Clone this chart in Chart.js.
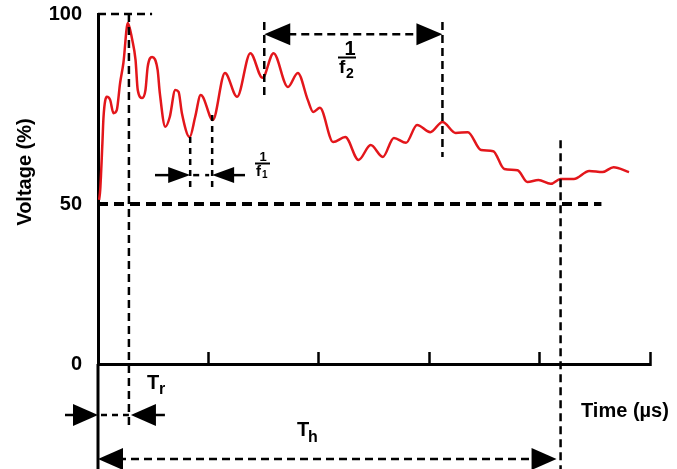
<!DOCTYPE html>
<html lang="en">
<head>
<meta charset="UTF-8">
<title>Voltage waveform</title>
<script src="https://cdn.jsdelivr.net/npm/chart.js"></script>
<style>
    html, body { margin: 0; padding: 0; background: #fff; }
    #wrap { width: 677px; height: 469px; }
</style>
</head>
<body>
<div id="wrap"><canvas id="chart" width="677" height="469"></canvas></div>
<script>
    // waveform (time in axis divisions, voltage in %)
    const timeValues = [0.01, 0.02, 0.04, 0.05, 0.08, 0.11, 0.14, 0.17, 0.20, 0.23, 0.27, 0.31, 0.34, 0.36, 0.40, 0.43,
        0.45, 0.49, 0.54, 0.56, 0.61, 0.65, 0.70, 0.73, 0.76, 0.83, 0.88, 0.93, 0.95, 1.04, 1.15, 1.26, 1.38, 1.49,
        1.59, 1.72, 1.81, 1.90, 1.95, 2.01, 2.13, 2.24, 2.36, 2.47, 2.58, 2.68, 2.79, 2.89, 3.01, 3.12, 3.24, 3.35,
        3.47, 3.58, 3.68, 3.80, 3.89, 3.99, 4.10, 4.19, 4.31, 4.45, 4.57, 4.67, 4.81];
    const voltValues = [51.1, 53.7, 66.1, 72.9, 78.2, 77.4, 73.9, 74.7, 81.8, 87.1, 97.6, 93.2, 87.9, 80.0, 77.9, 80.0,
        86.1, 88.7, 85.3, 79.2, 70.3, 72.9, 80.0, 79.5, 73.9, 67.6, 72.9, 78.7, 78.2, 72.1, 84.5, 78.2, 89.7, 83.2,
        89.7, 80.8, 84.5, 77.4, 74.2, 75.3, 66.3, 67.6, 61.6, 65.5, 62.4, 67.4, 66.1, 70.8, 68.9, 71.6, 68.7, 68.9,
        64.2, 63.9, 59.2, 58.9, 55.8, 56.3, 55.3, 56.6, 56.6, 58.7, 58.4, 59.7, 58.4];

    const yTickValues = [0, 50, 100];
    const yTickLabels = ["0", "50", "100"];
    const xTickValues = [0, 1, 2, 3, 4, 5];

    // annotation markers (same units as the data)
    const riseTime = 0.28;
    const f1Times = [0.835, 1.034];
    const f2Times = [1.506, 3.12];
    const holdTime = 4.19;
    const halfLevel = 50;
    const peakLevel = 100;

    const FONT = "'Liberation Sans', Arial, Helvetica, sans-serif";
    const LOW_SHARE = 160 / 350; // the drawing gives the 0-50 band less height than 50-100

    // linear scale split at 50 %, like the hand drawn axis
    class SplitLinearScale extends Chart.LinearScale {
        getPixelForValue(value) {
            if (value === null || isNaN(value)) return NaN;
            const d = value <= 50 ? value / 50 * LOW_SHARE : LOW_SHARE + (value - 50) / 50 * (1 - LOW_SHARE);
            return this.getPixelForDecimal(d);
        }
        getValueForPixel(pixel) {
            const d = this.getDecimalForPixel(pixel);
            return d <= LOW_SHARE ? d / LOW_SHARE * 50 : 50 + (d - LOW_SHARE) / (1 - LOW_SHARE) * 50;
        }
    }
    SplitLinearScale.id = "splitLinear";
    SplitLinearScale.defaults = Chart.LinearScale.defaults;
    Chart.register(SplitLinearScale);

    function dashedLine(ctx, x1, y1, x2, y2, dash, width) {
        ctx.save();
        ctx.strokeStyle = "#000";
        ctx.lineWidth = width;
        ctx.setLineDash(dash);
        ctx.beginPath();
        ctx.moveTo(x1, y1);
        ctx.lineTo(x2, y2);
        ctx.stroke();
        ctx.restore();
    }

    function solidLine(ctx, x1, y1, x2, y2, width) {
        dashedLine(ctx, x1, y1, x2, y2, [], width);
    }

    // dir = 1 points right, -1 points left
    function arrowHead(ctx, tipX, y, dir, len, half) {
        ctx.save();
        ctx.fillStyle = "#000";
        ctx.beginPath();
        ctx.moveTo(tipX, y);
        ctx.lineTo(tipX - dir * len, y - half);
        ctx.lineTo(tipX - dir * len, y + half);
        ctx.closePath();
        ctx.fill();
        ctx.restore();
    }

    function text(ctx, str, x, y, size, align) {
        ctx.font = "bold " + size + "px " + FONT;
        ctx.textAlign = align || "left";
        ctx.textBaseline = "alphabetic";
        ctx.fillStyle = "#000";
        ctx.fillText(str, x, y);
    }

    const annotations = {
        id: "annotations",
        afterDatasetsDraw(chart) {
            const ctx = chart.ctx;
            const xs = chart.scales.x;
            const ys = chart.scales.y;
            const area = chart.chartArea;
            const X = t => xs.getPixelForValue(t);
            const Y = v => ys.getPixelForValue(v);
            const thin = [8, 5];

            // axis continues below the time axis
            solidLine(ctx, area.left, area.bottom, area.left, chart.height, 3);

            // 100 % and 50 % reference lines
            dashedLine(ctx, area.left, Y(peakLevel), X(0.49), Y(peakLevel), thin, 2.5);
            dashedLine(ctx, area.left, Y(halfLevel), X(4.56), Y(halfLevel), [10, 6], 4);

            // rise time
            const xr = X(riseTime);
            dashedLine(ctx, xr, Y(peakLevel), xr, area.bottom + 66, thin, 2.5);
            const yTr = area.bottom + 51;
            solidLine(ctx, 65, yTr, area.left - 20, yTr, 2.5);
            arrowHead(ctx, area.left, yTr, 1, 25, 11);
            dashedLine(ctx, area.left + 3, yTr, xr, yTr, [6, 5], 2.5);
            arrowHead(ctx, xr + 2, yTr, -1, 25, 11);
            solidLine(ctx, xr + 20, yTr, xr + 36, yTr, 2.5);
            text(ctx, "T", 147, 389, 20);
            text(ctx, "r", 159, 394, 16);

            // duration
            const xh = X(holdTime);
            dashedLine(ctx, xh, Y(66.8), xh, chart.height, thin, 2.5);
            const yTh = area.bottom + 95;
            arrowHead(ctx, area.left, yTh, -1, 25, 11);
            dashedLine(ctx, area.left + 20, yTh, xh - 24, yTh, thin, 2.5);
            arrowHead(ctx, xh - 4, yTh, 1, 25, 11);
            text(ctx, "T", 297, 436, 20);
            text(ctx, "h", 308, 442, 16);

            // first oscillation period
            const xa = X(f1Times[0]);
            const xb = X(f1Times[1]);
            dashedLine(ctx, xa, Y(67.6), xa, Y(53.2), [6, 5], 2.5);
            dashedLine(ctx, xb, Y(73.4), xb, Y(53.2), [6, 5], 2.5);
            const yf1 = Y(57.6);
            solidLine(ctx, 155, yf1, xa - 15, yf1, 2.5);
            arrowHead(ctx, xa, yf1, 1, 22, 8);
            dashedLine(ctx, xa + 3, yf1, xb - 3, yf1, [6, 6], 2.5);
            arrowHead(ctx, xb, yf1, -1, 22, 8);
            solidLine(ctx, xb + 15, yf1, 245, yf1, 2.5);
            text(ctx, "1", 263, 161, 13, "center");
            solidLine(ctx, 255, 163.5, 270, 163.5, 2);
            text(ctx, "f", 256, 176, 15);
            text(ctx, "1", 262, 178, 10);

            // second oscillation period
            const xc = X(f2Times[0]);
            const xd = X(f2Times[1]);
            dashedLine(ctx, xc, Y(97.9), xc, Y(77.9), thin, 2.5);
            dashedLine(ctx, xd, Y(97.9), xd, Y(62.4), thin, 2.5);
            const yf2 = Y(94.7);
            arrowHead(ctx, xc, yf2, -1, 26, 11);
            dashedLine(ctx, xc + 24, yf2, xd - 24, yf2, thin, 2.5);
            arrowHead(ctx, xd, yf2, 1, 26, 11);
            text(ctx, "1", 350, 55, 20, "center");
            solidLine(ctx, 338, 57.5, 356, 57.5, 2);
            text(ctx, "f", 339, 73, 19);
            text(ctx, "2", 346, 78, 14);

            // axis titles
            text(ctx, "Time (\u00b5s)", 581, 417, 20);
            ctx.save();
            ctx.translate(31, 172);
            ctx.rotate(-Math.PI / 2);
            text(ctx, "Voltage (%)", 0, 0, 20, "center");
            ctx.restore();
        }
    };

    new Chart(document.getElementById("chart").getContext("2d"), {
        type: "line",
        data: {
            datasets: [{
                data: timeValues.map((t, i) => ({ x: t, y: voltValues[i] })),
                borderColor: "#e3161b",
                borderWidth: 2.5,
                pointRadius: 0,
                fill: false,
                cubicInterpolationMode: "monotone"
            }]
        },
        options: {
            responsive: false,
            animation: false,
            layout: { padding: { top: 14, left: 0, right: 27, bottom: 105 } },
            plugins: { legend: { display: false }, tooltip: { enabled: false } },
            scales: {
                x: {
                    type: "linear",
                    min: 0,
                    max: 5,
                    afterBuildTicks: s => { s.ticks = xTickValues.map(v => ({ value: v })); },
                    afterFit: s => { s.height = 0; s.paddingLeft = 0; s.paddingRight = 0; },
                    ticks: { display: false },
                    grid: { drawOnChartArea: false, tickLength: -12, tickWidth: 2.5, tickColor: "#000" },
                    border: { color: "#000", width: 3 }
                },
                y: {
                    type: "splitLinear",
                    min: 0,
                    max: 100,
                    afterBuildTicks: s => { s.ticks = yTickValues.map(v => ({ value: v })); },
                    afterFit: s => { s.width = 98; s.paddingTop = 0; s.paddingBottom = 0; },
                    ticks: {
                        padding: 16,
                        color: "#000",
                        font: { family: FONT, size: 20, weight: "bold" },
                        callback: (v) => yTickLabels[yTickValues.indexOf(v)]
                    },
                    grid: { display: false, drawTicks: false },
                    border: { color: "#000", width: 3 }
                }
            }
        },
        plugins: [annotations]
    });
</script>
</body>
</html>
